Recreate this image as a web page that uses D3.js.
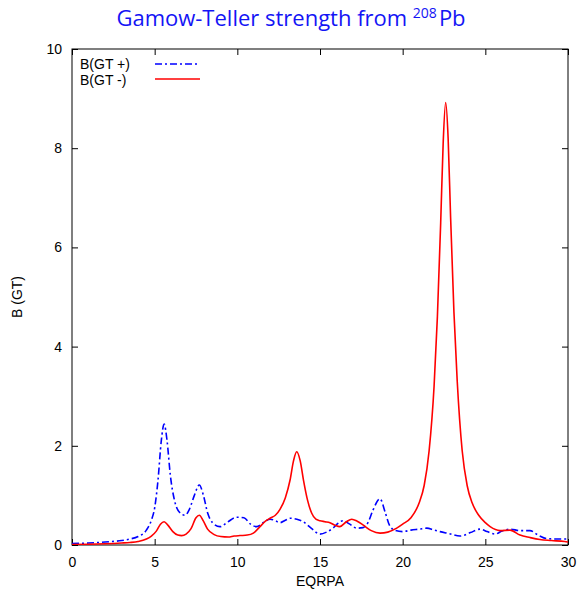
<!DOCTYPE html>
<html><head><meta charset="utf-8">
<script src="https://cdn.jsdelivr.net/npm/d3@7"></script>
<style>body{margin:0;background:#fff}svg{display:block}</style>
</head><body>
<script>
const xTicks = [0, 5, 10, 15, 20, 25, 30];
const yTicks = [0, 2, 4, 6, 8, 10];
const seriesNames = ["B(GT +)", "B(GT -)"];
const gtPlusX = [0,1,2,3,3.5,4,4.5,4.8,5.0,5.2,5.4,5.57,5.75,5.95,6.2,6.5,6.84,7.1,7.4,7.7,7.95,8.2,8.5,8.95,9.4,9.96,10.4,10.8,11.17,11.6,11.98,12.3,12.58,12.9,13.19,13.6,13.98,14.5,15.0,15.4,15.79,16.1,16.39,16.8,17.22,17.6,17.9,18.2,18.63,18.95,19.2,19.5,20.0,20.5,21.0,21.46,21.9,22.26,22.8,23.47,24.1,24.68,25.1,25.59,26.0,26.5,27.1,27.7,28.2,28.7,29.3,30];
const gtPlusY = [0.03,0.04,0.06,0.09,0.12,0.17,0.3,0.5,0.75,1.3,2.1,2.44,2.1,1.4,0.9,0.66,0.6,0.72,1.0,1.21,1.0,0.65,0.45,0.37,0.46,0.56,0.55,0.42,0.37,0.46,0.52,0.49,0.45,0.5,0.54,0.52,0.47,0.33,0.22,0.26,0.34,0.44,0.49,0.42,0.34,0.35,0.45,0.7,0.93,0.65,0.4,0.3,0.27,0.3,0.32,0.34,0.3,0.27,0.23,0.18,0.25,0.32,0.27,0.22,0.28,0.32,0.29,0.29,0.2,0.13,0.12,0.12];
const gtMinusX = [0,1,2,3,3.5,4,4.5,4.8,5.1,5.35,5.57,5.8,6.1,6.4,6.63,6.9,7.2,7.5,7.7,7.95,8.2,8.6,9.0,9.46,9.8,10.16,10.6,10.97,11.37,11.7,11.98,12.3,12.58,12.9,13.19,13.4,13.59,13.8,14.0,14.25,14.5,14.75,15.0,15.3,15.6,15.9,16.2,16.6,16.92,17.25,17.62,18.1,18.63,19.1,19.64,20.0,20.5,21.0,21.3,21.6,21.9,22.1,22.3,22.45,22.6,22.75,22.9,23.1,23.3,23.6,23.9,24.2,24.6,25.0,25.29,25.89,26.5,27.1,27.7,28.3,29.0,29.8,30];
const gtMinusY = [0.01,0.015,0.025,0.04,0.05,0.07,0.12,0.18,0.28,0.42,0.47,0.4,0.27,0.2,0.19,0.22,0.33,0.55,0.6,0.48,0.32,0.21,0.17,0.16,0.18,0.19,0.2,0.24,0.37,0.48,0.54,0.6,0.72,0.95,1.31,1.7,1.88,1.7,1.31,0.9,0.64,0.52,0.49,0.47,0.45,0.4,0.37,0.47,0.52,0.48,0.4,0.29,0.24,0.26,0.34,0.42,0.55,0.85,1.2,1.9,3.2,4.6,6.5,8.1,8.92,8.2,6.6,4.7,3.3,1.9,1.2,0.85,0.6,0.45,0.37,0.29,0.3,0.2,0.15,0.11,0.09,0.07,0.06];

const W = 579, H = 591;
const m = {left: 72, right: 11, top: 49, bottom: 46};
const svg = d3.select("body").append("svg").attr("width", W).attr("height", H);
const x = d3.scaleLinear().domain([0, 30]).range([m.left, W - m.right]);
const y = d3.scaleLinear().domain([0, 10]).range([H - m.bottom, m.top]);
const font = "'Liberation Sans', Arial, sans-serif";

// title
const t = svg.append("text").attr("x", 291).attr("y", 26).attr("text-anchor", "middle")
  .attr("font-family", "'Open Sans', Lato, sans-serif").attr("font-size", 22).attr("fill", "#1414f5");
t.append("tspan").text("Gamow-Teller strength from ");
t.append("tspan").attr("font-size", 14).attr("dy", -8).text("208");
t.append("tspan").attr("dy", 8).attr("dx", 2).text("Pb");

// axes
const tickLen = 6;
const axB = svg.append("g").attr("transform", `translate(0,${y(0)})`)
  .call(d3.axisBottom(x).tickValues(xTicks).tickSize(-tickLen).tickPadding(12).tickFormat(d3.format("d")));
const axT = svg.append("g").attr("transform", `translate(0,${y(10)})`)
  .call(d3.axisTop(x).tickValues(xTicks).tickSize(-tickLen).tickFormat(""));
const axL = svg.append("g").attr("transform", `translate(${x(0)},0)`)
  .call(d3.axisLeft(y).tickValues(yTicks).tickSize(-tickLen).tickPadding(10).tickFormat(d3.format("d")));
const axR = svg.append("g").attr("transform", `translate(${x(30)},0)`)
  .call(d3.axisRight(y).tickValues(yTicks).tickSize(-tickLen).tickFormat(""));
[axB, axT, axL, axR].forEach(a => {
  a.select(".domain").remove();
  a.selectAll(".tick line").attr("stroke", "#000");
  a.selectAll("text").attr("font-family", font).attr("font-size", 14).attr("fill", "#000");
});
svg.append("rect").attr("x", x(0)).attr("y", y(10)).attr("width", x(30) - x(0)).attr("height", y(0) - y(10))
  .attr("fill", "none").attr("stroke", "#000").attr("stroke-width", 1);

// axis labels
svg.append("text").attr("x", (x(0) + x(30)) / 2).attr("y", 586).attr("text-anchor", "middle")
  .attr("font-family", font).attr("font-size", 14).text("EQRPA");
svg.append("text").attr("transform", `translate(22,${(y(0) + y(10)) / 2}) rotate(-90)`).attr("text-anchor", "middle")
  .attr("font-family", font).attr("font-size", 14).text("B (GT)");

// lines
const line = d3.line().x(d => x(d[0])).y(d => y(d[1])).curve(d3.curveMonotoneX);
const plus = gtPlusX.map((v, i) => [v, gtPlusY[i]]);
const minus = gtMinusX.map((v, i) => [v, gtMinusY[i]]);
svg.append("clipPath").attr("id", "c").append("rect")
  .attr("x", x(0)).attr("y", y(10)).attr("width", x(30) - x(0)).attr("height", y(0) - y(10));
svg.append("path").datum(plus).attr("d", line).attr("fill", "none").attr("stroke", "#0000ff")
  .attr("stroke-width", 1.6).attr("stroke-dasharray", "7,3,2,3").attr("clip-path", "url(#c)");
svg.append("path").datum(minus).attr("d", line).attr("fill", "none").attr("stroke", "#ff0000")
  .attr("stroke-width", 1.6).attr("clip-path", "url(#c)");

// legend
const leg = [{name: seriesNames[0], color: "#0000ff", dash: "7,3,2,3", ty: 69, ly: 64},
             {name: seriesNames[1], color: "#ff0000", dash: null, ty: 85, ly: 79}];
leg.forEach(d => {
  svg.append("text").attr("x", 80).attr("y", d.ty).attr("font-family", font).attr("font-size", 14).text(d.name);
  svg.append("line").attr("x1", 155).attr("x2", 200).attr("y1", d.ly).attr("y2", d.ly)
    .attr("stroke", d.color).attr("stroke-width", 1.6).attr("stroke-dasharray", d.dash);
});
</script>
</body></html>
